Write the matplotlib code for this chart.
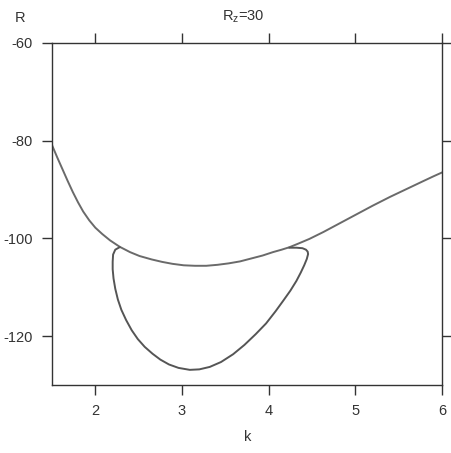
import matplotlib.pyplot as plt

# main neutral curve R(k)
k_upper = [1.50, 1.56, 1.62, 1.68, 1.74, 1.80, 1.86, 1.93, 2.00, 2.08, 2.17,
           2.28, 2.40, 2.51, 2.65, 2.77, 2.89, 3.02, 3.15, 3.28, 3.41, 3.54,
           3.67, 3.80, 3.93, 4.05, 4.15, 4.24, 4.35, 4.47, 4.63, 4.82, 5.01,
           5.20, 5.40, 5.59, 5.78, 5.90, 6.00]
R_upper = [-80.9, -83.4, -85.8, -88.2, -90.5, -92.6, -94.5, -96.3, -97.8,
           -99.1, -100.4, -101.7, -102.8, -103.6, -104.3, -104.8, -105.2,
           -105.5, -105.6, -105.6, -105.4, -105.1, -104.7, -104.1, -103.5,
           -102.8, -102.3, -101.8, -101.0, -100.1, -98.7, -96.9, -95.1,
           -93.3, -91.5, -89.9, -88.3, -87.3, -86.5]

# closed loop hanging below the main curve
k_loop = [2.28, 2.23, 2.205, 2.20, 2.20, 2.21, 2.23, 2.26, 2.30, 2.355, 2.42,
          2.49, 2.57, 2.66, 2.75, 2.85, 2.96, 3.09, 3.20, 3.32, 3.45, 3.59,
          3.72, 3.85, 3.97, 4.08, 4.17, 4.25, 4.32, 4.37, 4.41, 4.44, 4.455,
          4.45, 4.43, 4.39, 4.32, 4.24]
R_loop = [-101.8, -102.3, -103.3, -104.8, -106.3, -108.2, -110.3, -112.5,
          -114.6, -116.7, -118.8, -120.6, -122.2, -123.6, -124.8, -125.8,
          -126.5, -126.9, -126.8, -126.3, -125.3, -123.7, -121.8, -119.6,
          -117.4, -114.9, -112.7, -110.7, -108.7, -107.0, -105.5, -104.2,
          -103.2, -102.7, -102.3, -102.0, -101.9, -101.9]

x_ticks = [2, 3, 4, 5, 6]
y_ticks = [-60, -80, -100, -120]

plt.rcParams['font.family'] = ['Liberation Sans', 'DejaVu Sans']
plt.rcParams['axes.unicode_minus'] = False

fig = plt.figure(figsize=(4.52, 4.53), dpi=100)
ax = fig.add_axes([52 / 452, 68 / 453, 390 / 452, 342 / 453])

ax.plot(k_upper, R_upper, color='#6a6a6a', lw=1.4, solid_joinstyle='round')
ax.plot(k_loop, R_loop, color='#555555', lw=1.4, solid_joinstyle='round')

ax.set_xlim(1.5, 6)
ax.set_ylim(-130, -60)
ax.set_xticks(x_ticks)
ax.set_yticks(y_ticks)
ax.tick_params(direction='out', length=7, width=1, color='#333333',
               labelsize=10.5, labelcolor='#333333', pad=7,
               top=True, right=True)
for s in ax.spines.values():
    s.set_color('#333333')
    s.set_linewidth(1)

fig.text(243 / 452, 1 - 17 / 453, r'R$_\mathregular{z}$=30', ha='center',
         va='center', fontsize=10.5, color='#333333')
fig.text(20 / 452, 1 - 18 / 453, 'R', ha='center', va='center',
         fontsize=10.5, color='#333333')
fig.text(248 / 452, 1 - 437 / 453, 'k', ha='center', va='center',
         fontsize=10.5, color='#333333')

fig.savefig('out.png', dpi=100)
